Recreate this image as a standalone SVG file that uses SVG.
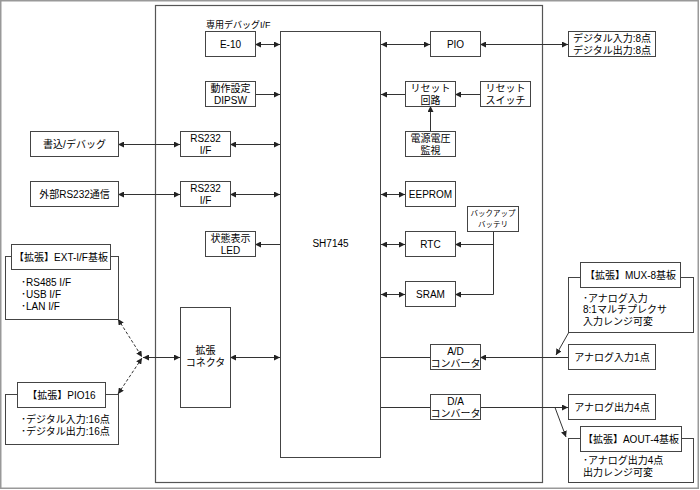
<svg xmlns="http://www.w3.org/2000/svg" width="700" height="490" viewBox="0 0 700 490">
<defs>
<marker id="ah" viewBox="0 0 6 6" refX="6" refY="3" markerWidth="6" markerHeight="6" markerUnits="userSpaceOnUse" orient="auto-start-reverse">
<path d="M0,0 L6,3 L0,6 z" fill="#222"/>
</marker>
<style>
.b{fill:#fff;stroke:#444;stroke-width:1}
.f{fill:none;stroke:#555;stroke-width:1.2}
.t{font-family:"Liberation Sans","Noto Sans CJK JP",sans-serif;font-size:10px;fill:#000;text-anchor:middle}
.l{font-family:"Liberation Sans","Noto Sans CJK JP",sans-serif;font-size:10px;fill:#000}
.s{font-family:"Liberation Sans","Noto Sans CJK JP",sans-serif;font-size:7.5px;fill:#000;text-anchor:middle}
.c{fill:none;stroke:#333;stroke-width:1}
.d{fill:none;stroke:#333;stroke-width:1;stroke-dasharray:3,2}
.a{marker-end:url(#ah)}
.aa{marker-start:url(#ah);marker-end:url(#ah)}
</style>
</defs>
<rect x="0.75" y="0.75" width="697.5" height="487.5" fill="#fff" stroke="#999" stroke-width="1.5"/>
<rect id="board" class="f" x="155.5" y="5.5" width="387" height="477"/>

<g id="connectors">
<path class="c aa" d="M255,44.5 H280"/>
<path class="c a" d="M255,94.5 H280"/>
<path class="c aa" d="M118,144.5 H180"/>
<path class="c aa" d="M230,144.5 H280"/>
<path class="c aa" d="M118,194.5 H180"/>
<path class="c aa" d="M230,194.5 H280"/>
<path class="c a" d="M280,244.5 H255"/>
<path class="c aa" d="M230,357.5 H280"/>
<path class="c aa" d="M143,357.5 H180"/>
<path class="d aa" d="M118,319 L142,357"/>
<path class="d aa" d="M118,394 L142,358"/>
<path class="c aa" d="M381,44.5 H430"/>
<path class="c aa" d="M480,44.5 H568"/>
<path class="c a" d="M405,94.5 H381"/>
<path class="c a" d="M480,94.5 H455"/>
<path class="c a" d="M430.5,131 V106"/>
<path class="c aa" d="M381,194.5 H405"/>
<path class="c aa" d="M381,244.5 H405"/>
<path class="c aa" d="M381,294.5 H405"/>
<path class="c a" d="M493.5,231 V294.5 H455"/>
<path class="c a" d="M493.5,244.5 H455"/>
<path class="c" d="M381,357.5 H430"/>
<path class="c a" d="M568,357.5 H480"/>
<path class="c a" d="M569,332 L556,355"/>
<path class="c" d="M381,407.5 H430"/>
<path class="c a" d="M480,407.5 H568"/>
<path class="c a" d="M555,407.5 L566,437"/>
</g>

<g id="sh7145"><rect class="b" x="280.5" y="31.5" width="100" height="426"/><text class="t" x="330.5" y="247">SH7145</text></g>

<g id="e10"><text class="l" x="206" y="28" style="font-size:9px">専用デバッグI/F</text><rect class="b" x="205.5" y="31.5" width="50" height="25"/><text class="t" x="230.5" y="48">E-10</text></g>
<g id="dipsw"><rect class="b" x="205.5" y="81.5" width="50" height="25"/><text class="t" x="230.5" y="91.5">動作設定</text><text class="t" x="230.5" y="103.5">DIPSW</text></g>
<g id="rs232a"><rect class="b" x="180.5" y="131.5" width="50" height="25"/><text class="t" x="205.5" y="141.5">RS232</text><text class="t" x="205.5" y="153.5">I/F</text></g>
<g id="rs232b"><rect class="b" x="180.5" y="181.5" width="50" height="25"/><text class="t" x="205.5" y="191.5">RS232</text><text class="t" x="205.5" y="203.5">I/F</text></g>
<g id="write"><rect class="b" x="30.5" y="131.5" width="88" height="25"/><text class="t" x="74.5" y="148">書込/デバッグ</text></g>
<g id="ext232"><rect class="b" x="30.5" y="181.5" width="88" height="25"/><text class="t" x="74.5" y="198">外部RS232通信</text></g>
<g id="led"><rect class="b" x="205.5" y="231.5" width="50" height="25"/><text class="t" x="230.5" y="241.5">状態表示</text><text class="t" x="230.5" y="253.5">LED</text></g>
<g id="extconn"><rect class="b" x="180.5" y="307.5" width="50" height="100"/><text class="t" x="205.5" y="354">拡張</text><text class="t" x="205.5" y="366">コネクタ</text></g>

<g id="extif"><rect class="b" x="5.5" y="256.5" width="113" height="63"/><rect class="b" x="11.5" y="244.5" width="99" height="25"/><text class="t" x="61" y="261">【拡張】EXT-I/F基板</text>
<text class="l" x="21" y="285.5">･RS485 I/F</text><text class="l" x="21" y="297.5">･USB I/F</text><text class="l" x="21" y="309.5">･LAN I/F</text></g>
<g id="pio16"><rect class="b" x="5.5" y="394.5" width="113" height="50"/><rect class="b" x="17.5" y="382.5" width="88" height="25"/><text class="t" x="61.5" y="399">【拡張】PIO16</text>
<text class="l" x="21" y="422.5">･デジタル入力:16点</text><text class="l" x="21" y="434.5">･デジタル出力:16点</text></g>

<g id="pio"><rect class="b" x="430.5" y="31.5" width="50" height="25"/><text class="t" x="455.5" y="48">PIO</text></g>
<g id="dio"><rect class="b" x="568.5" y="31.5" width="87" height="25"/><text class="t" x="612" y="41.5">デジタル入力:8点</text><text class="t" x="612" y="53.5">デジタル出力:8点</text></g>
<g id="rstc"><rect class="b" x="405.5" y="81.5" width="50" height="25"/><text class="t" x="430.5" y="91.5">リセット</text><text class="t" x="430.5" y="103.5">回路</text></g>
<g id="rsts"><rect class="b" x="480.5" y="81.5" width="50" height="25"/><text class="t" x="505.5" y="91.5">リセット</text><text class="t" x="505.5" y="103.5">スイッチ</text></g>
<g id="pwr"><rect class="b" x="405.5" y="131.5" width="50" height="25"/><text class="t" x="430.5" y="141.5">電源電圧</text><text class="t" x="430.5" y="153.5">監視</text></g>
<g id="eeprom"><rect class="b" x="405.5" y="181.5" width="50" height="25"/><text class="t" x="430.5" y="198">EEPROM</text></g>
<g id="batt"><rect class="b" x="467.5" y="206.5" width="51" height="25"/><text class="s" x="493" y="216">バックアップ</text><text class="s" x="493" y="226.5">バッテリ</text></g>
<g id="rtc"><rect class="b" x="405.5" y="231.5" width="50" height="25"/><text class="t" x="430.5" y="248">RTC</text></g>
<g id="sram"><rect class="b" x="405.5" y="281.5" width="50" height="25"/><text class="t" x="430.5" y="298">SRAM</text></g>
<g id="adc"><rect class="b" x="430.5" y="344.5" width="50" height="25"/><text class="t" x="455.5" y="354.5">A/D</text><text class="t" x="455.5" y="366.5">コンバータ</text></g>
<g id="dac"><rect class="b" x="430.5" y="394.5" width="50" height="25"/><text class="t" x="455.5" y="404.5">D/A</text><text class="t" x="455.5" y="416.5">コンバータ</text></g>

<g id="mux8"><rect class="b" x="568.5" y="277.5" width="125" height="55"/><rect class="b" x="580.5" y="262.5" width="100" height="25"/><text class="t" x="630.5" y="279">【拡張】MUX-8基板</text>
<text class="l" x="583" y="301.5">･アナログ入力</text><text class="l" x="583" y="313">8:1マルチプレクサ</text><text class="l" x="583" y="324.5">入力レンジ可変</text></g>
<g id="ain"><rect class="b" x="568.5" y="344.5" width="87" height="25"/><text class="t" x="612" y="361">アナログ入力1点</text></g>
<g id="aout"><rect class="b" x="568.5" y="394.5" width="87" height="25"/><text class="t" x="612" y="411">アナログ出力4点</text></g>
<g id="aout4"><rect class="b" x="568.5" y="438.5" width="125" height="44"/><rect class="b" x="580.5" y="426.5" width="101" height="25"/><text class="t" x="631" y="443">【拡張】AOUT-4基板</text>
<text class="l" x="583" y="463.5">･アナログ出力4点</text><text class="l" x="583" y="475.5">出力レンジ可変</text></g>
</svg>
